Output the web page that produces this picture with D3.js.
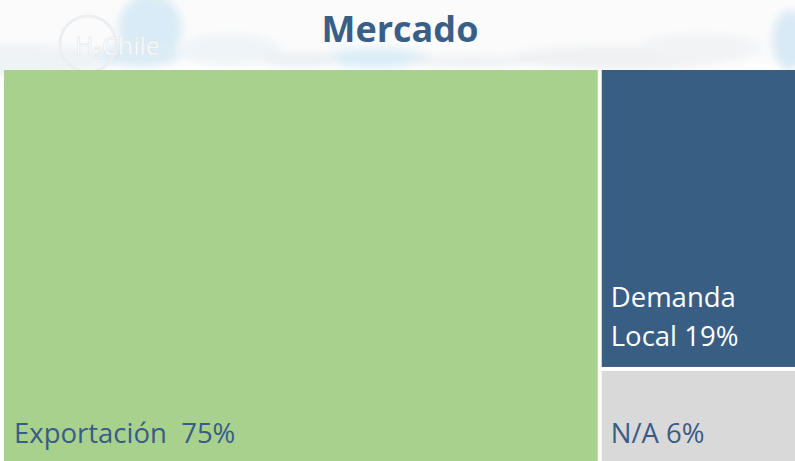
<!DOCTYPE html>
<html>
<head>
<meta charset="utf-8">
<script src="https://cdn.jsdelivr.net/npm/d3@7"></script>
<style>
	body { margin: 0; background: #fff; }
	svg { display: block; }
</style>
</head>
<body>
<div id="chart"></div>
<script>
const categories = ["Exportación", "Demanda Local", "N/A"];
const values = [75, 19, 6];
const labelLines = [["Exportación  75%"], ["Demanda", "Local 19%"], ["N/A 6%"]];
const fills = ["#a9d18e", "#385e84", "#d9d9d9"];
const textFills = ["#3b5b87", "#ffffff", "#3b5b87"];

render();

function render() {
	const width = 795;
	const height = 461;
	const box = { left: 4, top: 70, right: 797, bottom: 462 };

	const svg = d3.select("#chart")
		.append("svg")
		.attr("width", width)
		.attr("height", height);

	// faint sky banner behind the title
	const defs = svg.append("defs");
	defs.append("filter")
		.attr("id", "blur")
		.attr("x", "-20%").attr("y", "-20%")
		.attr("width", "140%").attr("height", "140%")
		.append("feGaussianBlur")
		.attr("stdDeviation", 4);

	const banner = svg.append("g").attr("filter", "url(#blur)");
	banner.append("rect")
		.attr("x", -10).attr("y", -10)
		.attr("width", width + 20).attr("height", 76)
		.attr("fill", "#fbfbfb");
	const clouds = [
		[0, 60, 120, 16, "#eef3f6"],
		[150, 28, 32, 34, "#d9ebf6"],
		[140, 55, 40, 12, "#dcecf6"],
		[230, 50, 50, 16, "#eef4f8"],
		[375, 58, 55, 10, "#dcedf7"],
		[300, 60, 40, 8, "#edf1f4"],
		[470, 62, 60, 6, "#eef1f3"],
		[620, 58, 110, 12, "#eff1f3"],
		[700, 48, 60, 14, "#f1f3f5"],
		[790, 40, 18, 30, "#d8eaf6"]
	];
	banner.selectAll("ellipse")
		.data(clouds)
		.enter()
		.append("ellipse")
		.attr("cx", (d) => d[0])
		.attr("cy", (d) => d[1])
		.attr("rx", (d) => d[2])
		.attr("ry", (d) => d[3])
		.attr("fill", (d) => d[4]);

	// faint logo
	svg.append("circle")
		.attr("cx", 88)
		.attr("cy", 44)
		.attr("r", 28)
		.attr("fill", "none")
		.attr("stroke", "#eceff1")
		.attr("stroke-width", 3);
	svg.append("text")
		.text("H₂Chile")
		.attr("x", 75)
		.attr("y", 55)
		.attr("fill", "#ffffff")
		.attr("stroke", "#e2e6e9")
		.attr("stroke-width", 0.6)
		.style("font-family", "'Open Sans', sans-serif")
		.style("font-size", "25px");

	svg.append("text")
		.text("Mercado")
		.attr("x", 400)
		.attr("y", 42)
		.attr("text-anchor", "middle")
		.attr("fill", "#3a5f86")
		.style("font-family", "'Open Sans', sans-serif")
		.style("font-weight", "bold")
		.style("font-size", "36px");

	// Data structuring
	const root = d3.hierarchy({
		children: categories.map((c, i) => ({ name: c, value: values[i], i: i }))
	}).sum((d) => d.value || 0);

	d3.treemap()
		.tile(d3.treemapSquarify)
		.size([box.right - box.left, box.bottom - box.top])
		.paddingInner(4)(root);

	const cells = svg.append("g")
		.attr("transform", `translate(${box.left}, ${box.top})`)
		.selectAll("g")
		.data(root.leaves())
		.enter()
		.append("g")
		.attr("transform", (d) => `translate(${d.x0}, ${d.y0})`);

	cells.append("rect")
		.attr("width", (d) => d.x1 - d.x0)
		.attr("height", (d) => d.y1 - d.y0)
		.attr("fill", (d) => fills[d.data.i]);

	cells.each(function (d) {
		const lines = labelLines[d.data.i];
		const h = d.y1 - d.y0;
		const g = d3.select(this);
		const lh = 39;
		const baseY = d.data.i === 1 ? h - 21 : h - 19;
		lines.forEach((line, k) => {
			g.append("text")
				.text(line)
				.attr("x", d.data.i === 0 ? 10 : 9)
				.attr("y", baseY - (lines.length - 1 - k) * lh)
				.attr("fill", textFills[d.data.i])
				.style("font-family", "'Open Sans', sans-serif")
				.style("font-size", "27.5px")
				.style("white-space", "pre");
		});
	});
}
</script>
</body>
</html>
